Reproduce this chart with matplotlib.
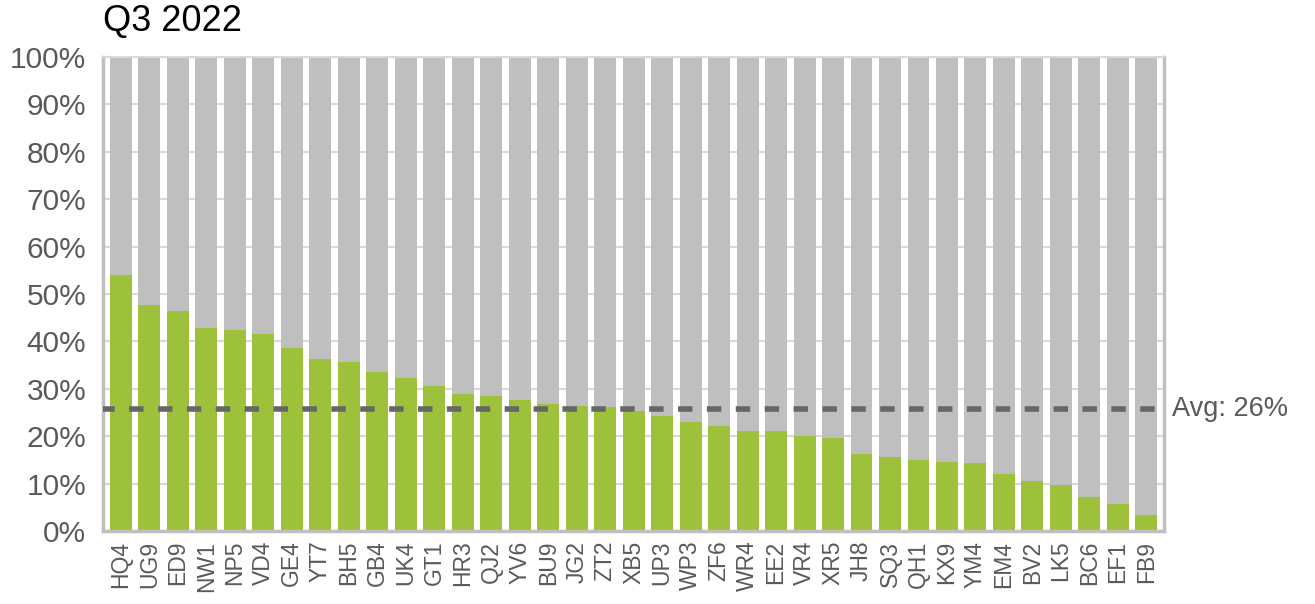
import matplotlib.pyplot as plt

plt.rcParams['font.family'] = ['Liberation Sans', 'DejaVu Sans']

# Data (Q3 2022)
sites = ['HQ4', 'UG9', 'ED9', 'NW1', 'NP5', 'VD4', 'GE4', 'YT7', 'BH5', 'GB4',
         'UK4', 'GT1', 'HR3', 'QJ2', 'YV6', 'BU9', 'JG2', 'ZT2', 'XB5', 'UP3',
         'WP3', 'ZF6', 'WR4', 'EE2', 'VR4', 'XR5', 'JH8', 'SQ3', 'QH1', 'KX9',
         'YM4', 'EM4', 'BV2', 'LK5', 'BC6', 'EF1', 'FB9']
share = [54.1, 47.6, 46.5, 42.9, 42.5, 41.6, 38.6, 36.3, 35.7, 33.5,
         32.3, 30.6, 28.9, 28.4, 27.6, 26.8, 26.3, 26.1, 25.3, 24.2,
         23.1, 22.1, 21.0, 21.0, 20.0, 19.7, 16.3, 15.7, 14.9, 14.6,
         14.4, 12.1, 10.6, 9.8, 7.2, 5.7, 3.4]
average = 25.8
avg_label = 'Avg: 26%'
title = 'Q3 2022'

green = '#9DC13A'
grey = '#BFBFBF'
text_grey = '#595959'

fig = plt.figure(figsize=(13.15, 6.04), dpi=100)
ax = fig.add_axes([103 / 1315, (604 - 531) / 604, 1061 / 1315, 474 / 604])

x = list(range(len(sites)))
rest = [100 - v for v in share]
ax.bar(x, share, width=0.77, color=green, zorder=2)
ax.bar(x, rest, bottom=share, width=0.77, color=grey, zorder=2)

ax.axhline(average, color='#666666', lw=4, ls=(0.5, (2.6, 2.6)), zorder=3)
ax.text(1.008, average, avg_label, transform=ax.get_yaxis_transform(),
        ha='left', va='center', fontsize=19.5, color=text_grey)

ax.set_xlim(-0.63, len(sites) - 0.38)
ax.set_ylim(0, 100)
ax.set_yticks(range(0, 101, 10))
ax.set_yticklabels([f'{v}%' for v in range(0, 101, 10)])
ax.set_xticks(x)
ax.set_xticklabels(sites, rotation=90)
ax.tick_params(axis='y', length=0, pad=12, labelsize=21.5, labelcolor=text_grey)
ax.tick_params(axis='x', length=0, pad=7, labelsize=16.5, labelcolor=text_grey)

ax.grid(axis='y', color='#D9D9D9', lw=1.5, zorder=0)
ax.set_axisbelow(True)
for side in ['left', 'bottom', 'right']:
    ax.spines[side].set_color('#BFBFBF')
    ax.spines[side].set_linewidth(2.5)
ax.spines['top'].set_color('#D9D9D9')
ax.spines['top'].set_linewidth(1.5)

fig.text(103 / 1315, 1 - 22 / 604, title, ha='left', va='center',
         fontsize=26, color='black')

fig.savefig('out.png', dpi=100)
